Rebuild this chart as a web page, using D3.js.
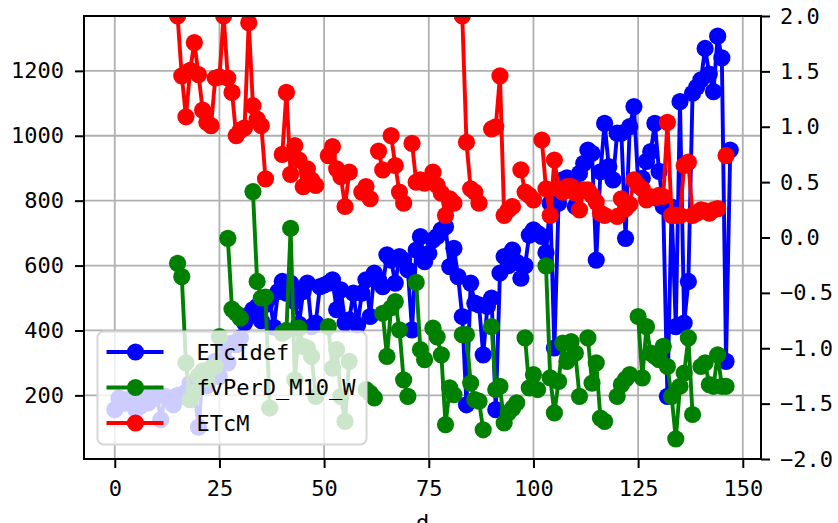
<!DOCTYPE html>
<html><head><meta charset="utf-8">
<script src="https://cdn.jsdelivr.net/npm/d3@7"></script>
<style>body{margin:0;background:#fff}svg{display:block}</style>
</head><body>
<svg id="c" width="838" height="523"></svg>
<script>
const days = d3.range(0, 148);
const xTicks = [0, 25, 50, 75, 100, 125, 150];
const yLeftTicks = [200, 400, 600, 800, 1000, 1200];
const yRightTicks = [-2.0, -1.5, -1.0, -0.5, 0.0, 0.5, 1.0, 1.5, 2.0];
const seriesNames = ["ETcIdef", "fvPerD_M10_W", "ETcM"];
const seriesColors = ["#0000ff", "#008000", "#ff0000"];

const ETcIdef = [156,192,175,187,177,156,166,200,177,190,
205,125,197,190,171,200,197,210,238,215,
102,258,230,270,305,258,341,300,361,356,
377,423,448,464,474,430,480,500,410,520,
551,515,546,489,420,520,546,412,423,535,
540,546,556,464,525,423,433,515,417,515,
556,443,577,556,535,633,617,546,628,617,
587,402,648,689,612,638,679,690,710,720,
597,653,566,443,171,546,484,479,325,474,
500,156,577,628,600,648,610,561,600,694,
710,699,690,640,792,346,792,864,870,853,
782,884,915,956,946,617,889,1038,905,864,
1008,1008,684,1028,1090,859,869,921,951,1038,
890,782,197,780,412,1105,423,551,1131,1150,
1172,1269,1190,1136,1307,1240,305,956];

const fvPerD_M10_W = [null,null,null,null,null,null,null,null,null,null,
null,null,null,null,null,607,566,300,187,210,
260,275,250,285,290,381,null,684,466,453,
438,null,null,828,551,500,503,161,null,null,
392,400,715,248,407,351,346,320,197,null,
null,412,284,341,197,120,305,null,null,null,
218,207,192,null,453,320,470,489,402,248,
197,null,548,341,310,null,407,380,325,110,
223,202,null,387,387,238,187,182,94,null,
412,218,228,115,146,160,177,null,377,223,
264,218,null,599,254,146,243,361,305,366,
330,197,null,377,238,300,130,120,null,null,
197,233,250,264,null,443,254,412,330,320,
310,351,289,197,66,228,269,377,141,null,
289,300,233,228,325,228,228,null];

const ETcM = [null,null,null,null,null,null,null,null,null,null,
null,null,null,null,null,2.0,1.46,1.09,1.51,1.76,
1.47,1.15,1.04,1.01,1.44,1.45,2.0,1.44,1.31,0.92,
0.97,0.99,1.94,1.19,1.07,1.01,0.53,null,null,null,
0.75,1.31,0.57,0.83,0.70,0.46,0.62,0.52,0.47,null,
null,0.74,0.82,0.62,0.55,0.28,0.59,null,null,0.41,
0.46,0.35,null,0.78,0.61,null,0.92,0.65,0.41,0.31,
null,0.85,0.50,0.52,0.49,null,0.59,0.47,0.40,0.20,
0.35,0.31,null,2.0,0.86,0.44,0.41,0.31,null,null,
0.98,1.00,1.46,0.20,0.25,0.28,null,0.61,0.41,0.38,
0.34,null,0.88,0.44,0.20,0.70,0.44,0.41,0.46,0.46,
0.40,0.25,0.43,0.43,0.38,0.32,0.22,0.20,null,null,
0.19,0.35,0.26,0.30,0.52,0.47,0.44,0.34,0.37,0.36,
0.38,0.37,1.04,0.20,0.20,0.20,0.65,0.68,0.20,0.22,
0.25,0.24,0.22,0.25,0.26,null,0.74,null];

const svg = d3.select("#c");
const L = 84, T = 16, R = 761, B = 459;
const FONT = "'DejaVu Sans Mono', 'Liberation Mono', monospace";

function padExtent(vals) {
  const e = d3.extent(vals.filter(v => v != null));
  const m = (e[1] - e[0]) * 0.05;
  return [e[0] - m, e[1] + m];
}
const x = d3.scaleLinear().domain(padExtent(days)).range([L, R]);
const yL = d3.scaleLinear().domain(padExtent(ETcIdef.concat(fvPerD_M10_W))).range([B, T]);
const yR = d3.scaleLinear().domain([-2, 2]).range([B, T]);

svg.append("defs").append("clipPath").attr("id", "clip")
  .append("rect").attr("x", L).attr("y", T).attr("width", R - L).attr("height", B - T);

// grid
const grid = svg.append("g");
grid.selectAll("line.gx").data(xTicks).join("line")
  .attr("x1", d => x(d)).attr("x2", d => x(d)).attr("y1", T).attr("y2", B)
  .attr("stroke", "#b0b0b0").attr("stroke-width", 1.8);
grid.selectAll("line.gy").data(yLeftTicks).join("line")
  .attr("y1", d => yL(d)).attr("y2", d => yL(d)).attr("x1", L).attr("x2", R)
  .attr("stroke", "#b0b0b0").attr("stroke-width", 1.8);

// series
const plot = svg.append("g").attr("clip-path", "url(#clip)");
function drawSeries(vals, yScale, color) {
  const pts = days.map((d, i) => ({d, v: vals[i]}));
  const line = d3.line().defined(p => p.v != null).x(p => x(p.d)).y(p => yScale(p.v));
  plot.append("path").attr("d", line(pts)).attr("fill", "none")
    .attr("stroke", color).attr("stroke-width", 3.9).attr("stroke-linejoin", "round");
  plot.append("g").selectAll("circle").data(pts.filter(p => p.v != null)).join("circle")
    .attr("cx", p => x(p.d)).attr("cy", p => yScale(p.v)).attr("r", 8.6).attr("fill", color);
}
drawSeries(ETcIdef, yL, seriesColors[0]);
drawSeries(fvPerD_M10_W, yL, seriesColors[1]);
drawSeries(ETcM, yR, seriesColors[2]);

// frame
svg.append("rect").attr("x", L).attr("y", T).attr("width", R - L).attr("height", B - T)
  .attr("fill", "none").attr("stroke", "#000").attr("stroke-width", 2);

// axes
function styleAxis(g) {
  g.select(".domain").remove();
  g.selectAll(".tick line").attr("stroke", "#000").attr("stroke-width", 2);
  g.selectAll(".tick text").attr("fill", "#000").style("font-family", FONT).style("font-size", "22px");
}
svg.append("g").attr("transform", `translate(0,${B})`)
  .call(d3.axisBottom(x).tickValues(xTicks).tickSize(9).tickPadding(12).tickFormat(d3.format("d")))
  .call(styleAxis);
svg.append("g").attr("transform", `translate(${L},0)`)
  .call(d3.axisLeft(yL).tickValues(yLeftTicks).tickSize(9).tickPadding(11).tickFormat(d3.format("d")))
  .call(styleAxis);
svg.append("g").attr("transform", `translate(${R},0)`)
  .call(d3.axisRight(yR).tickValues(yRightTicks).tickSize(9).tickPadding(10)
    .tickFormat(d => d3.format(".1f")(d).replace("-", "\u2212")))
  .call(styleAxis);

svg.append("text").attr("x", (L + R) / 2).attr("y", 530).attr("text-anchor", "middle")
  .style("font-family", FONT).style("font-size", "22px").text("d");

// legend
const lg = svg.append("g").attr("transform", "translate(97.5,331.5)");
lg.append("rect").attr("width", 269).attr("height", 113).attr("rx", 6)
  .attr("fill", "#fff").attr("fill-opacity", 0.8).attr("stroke", "#d6d6d6").attr("stroke-width", 2);
seriesNames.forEach((n, i) => {
  const yy = 20.5 + i * 35.5;
  lg.append("line").attr("x1", 9).attr("x2", 66).attr("y1", yy).attr("y2", yy)
    .attr("stroke", seriesColors[i]).attr("stroke-width", 4);
  lg.append("circle").attr("cx", 38).attr("cy", yy).attr("r", 8.6).attr("fill", seriesColors[i]);
  lg.append("text").attr("x", 99).attr("y", yy).attr("dy", "0.36em")
    .style("font-family", FONT).style("font-size", "22px").text(n);
});
</script>
</body></html>
